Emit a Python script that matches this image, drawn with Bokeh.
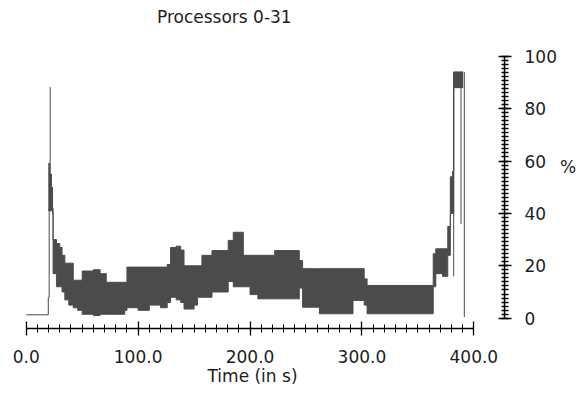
from bokeh.plotting import figure
from bokeh.models import Range1d, FixedTicker, PrintfTickFormatter, Label
from bokeh.embed import file_html
from bokeh.resources import INLINE

# ---- data ----
title_text = "Processors 0-31"
x_label = "Time (in s)"
y_label = "%"
x_ticks = [0, 100, 200, 300, 400]
x_minor = list(range(0, 401, 10))
y_ticks = [0, 20, 40, 60, 80, 100]
y_minor = [k * 20 / 13 for k in range(0, 66)]

# step envelope of the rapidly oscillating utilisation band (value holds until next time)
t_env = [19.7, 21, 22.5, 23.5, 24, 27, 30, 32, 34.5, 38, 42, 46, 50, 60, 66, 71.5, 88, 90,
         100, 110, 120, 126, 129, 134, 138, 141, 150, 153, 157, 166, 180.5, 185, 194, 200,
         207, 222, 244, 247, 262, 292, 302, 304.6, 363.7, 366, 372, 376.7, 379, 381, 382,
         390.5]
upper = [59, 55, 50, 42, 30, 28.5, 27, 24, 21, 21, 14.5, 14.5, 18, 18.5, 17, 13.7, 13.7, 19.5,
         19.5, 19.5, 19.5, 20.5, 27, 27.5, 26, 20, 20, 20, 24, 25.8, 29.7, 32.8, 24, 24,
         24, 25.8, 22, 18.9, 18.9, 18.9, 15, 12.5, 24.6, 26.5, 26.5, 35, 54, 56, 94,
         94]
lower = [41, 41, 41, 40, 17, 12, 12, 10, 7, 5, 4, 3, 1.5, 1, 1.5, 1.5, 3, 4,
         3, 5, 4, 6, 8, 7, 6, 3.5, 5, 8, 8, 10, 14, 12, 12, 9,
         7.4, 7.4, 11.5, 4.2, 1.7, 6.8, 5, 1.7, 12, 17, 16, 24, 40, 40, 88,
         88]

# thin single-sample excursions
trace_t = [[0, 19.7, 19.7, 20.5, 20.5], [21.4, 21.4], [382, 382], [388.5, 388.5], [391.5, 391.5]]
trace_v = [[1.3, 1.3, 8, 8, 42], [42, 88.2], [16, 94], [88, 36], [94, 0.4]]

FONT = "DejaVu Sans"
TXT = "#1e1e1e"
BAND = "#4b4b4b"

p = figure(width=579, height=393, output_backend="svg", toolbar_location=None,
           x_range=Range1d(-23.0, 427.4), y_range=Range1d(-3.93, 119.35),
           y_axis_location="right",
           min_border_left=0, min_border_right=70, min_border_top=5, min_border_bottom=65)
p.grid.visible = False
p.outline_line_color = None
p.background_fill_color = "white"
p.border_fill_color = "white"

if hasattr(p, "varea_step"):
    p.varea_step(x=t_env, y1=lower, y2=upper, step_mode="after", fill_color=BAND)
else:
    p.varea(x=t_env, y1=lower, y2=upper, fill_color=BAND)
p.step(t_env, upper, mode="after", line_color=BAND, line_width=1)
p.step(t_env, lower, mode="after", line_color=BAND, line_width=1)
p.multi_line(trace_t, trace_v, line_color=BAND, line_width=1)

title = Label(x=116.8, y=114.8, text=title_text, text_font=FONT, text_font_size="17px",
              text_color=TXT, text_baseline="middle", text_align="left")
p.add_layout(title)

xa = p.xaxis[0]
xa.bounds = (0, 400)
xa.ticker = FixedTicker(ticks=x_ticks, minor_ticks=x_minor)
xa.formatter = PrintfTickFormatter(format="%.1f")
xa.axis_label = x_label
xa.axis_label_text_font = FONT
xa.axis_label_text_font_size = "17px"
xa.axis_label_text_font_style = "normal"
xa.axis_label_text_color = TXT
xa.axis_label_standoff = 0
xa.major_label_text_font = FONT
xa.major_label_text_font_size = "17px"
xa.major_label_text_color = TXT
xa.major_label_standoff = 14
xa.major_tick_in = 7
xa.major_tick_out = 7
xa.minor_tick_in = 4
xa.minor_tick_out = 4
xa.axis_line_color = "black"
xa.axis_line_width = 1.3
xa.major_tick_line_color = "black"
xa.major_tick_line_width = 1.3
xa.minor_tick_line_color = "black"

ya = p.yaxis[0]
ya.bounds = (0, 100)
ya.ticker = FixedTicker(ticks=y_ticks, minor_ticks=y_minor)
ya.major_label_text_font = FONT
ya.major_label_text_font_size = "17px"
ya.major_label_text_color = TXT
ya.major_label_standoff = 13
ya.major_tick_in = 6
ya.major_tick_out = 7
ya.minor_tick_in = 3
ya.minor_tick_out = 4
ya.axis_line_color = "black"
ya.axis_line_width = 1.5
ya.major_tick_line_color = "black"
ya.major_tick_line_width = 1.3
ya.minor_tick_line_color = "black"
ya.minor_tick_line_width = 1.5
ya.axis_label = y_label
ya.axis_label_text_font = FONT
ya.axis_label_text_font_size = "17px"
ya.axis_label_text_font_style = "normal"
ya.axis_label_text_color = TXT
ya.axis_label_standoff = 0
if "axis_label_orientation" in ya.properties():
    ya.axis_label_orientation = "horizontal"

open("out.html", "w").write(file_html(p, INLINE))
